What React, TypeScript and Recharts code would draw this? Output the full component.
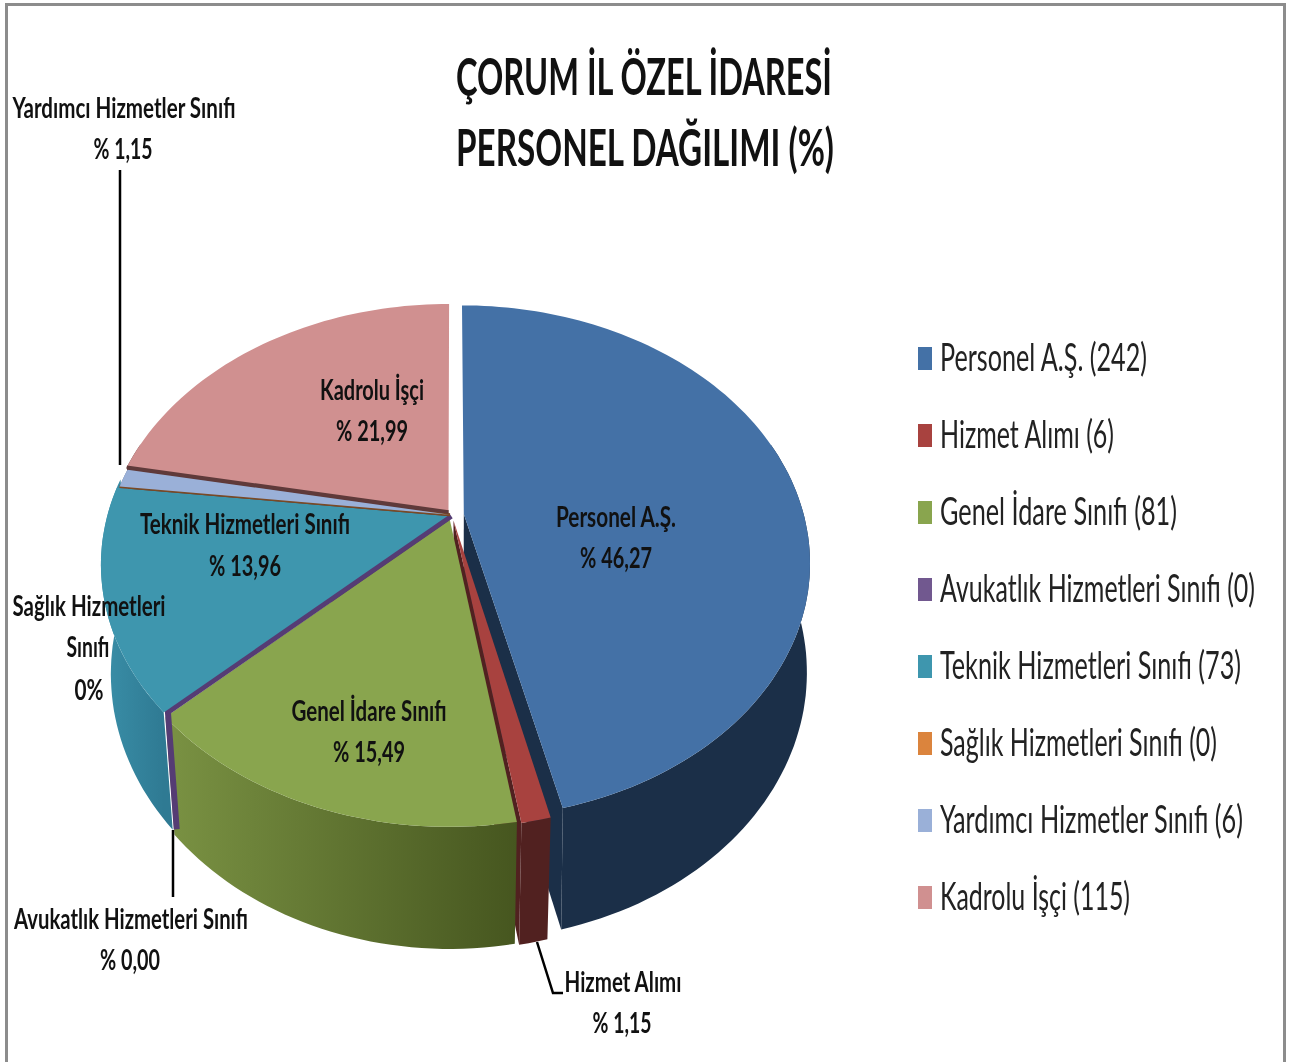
import { Legend, Pie, PieChart } from "recharts";

const names = [
  "Personel A.Ş.",
  "Hizmet Alımı",
  "Genel İdare Sınıfı",
  "Avukatlık Hizmetleri Sınıfı",
  "Teknik Hizmetleri Sınıfı",
  "Sağlık Hizmetleri Sınıfı",
  "Yardımcı Hizmetler Sınıfı",
  "Kadrolu İşçi",
];
const counts = [242, 6, 81, 0, 73, 0, 6, 115];
const percents = ["% 46,27", "% 1,15", "% 15,49", "% 0,00", "% 13,96", "0%", "% 1,15", "% 21,99"];

const topColors = ["#4471a6", "#a8423f", "#89a54e", "#71588f", "#3e96ae", "#db843d", "#9ab0d8", "#d09090"];
const wallColors = [
  ["#1b2f48", "#1b2f48"],
  ["#512120", "#512120"],
  ["#7a9243", "#46561f"],
  ["#4a3a6e", "#4a3a6e"],
  ["#3a8fa8", "#2f7a93"],
  ["#7a4a25", "#7a4a25"],
  ["#5b6f95", "#5b6f95"],
  ["#5f3a3a", "#5f3a3a"],
];
const edgeColors = ["", "", "", "#553c74", "", "#7a4a25", "", ""];
const edgeWidths = [0, 0, 0, 6, 0, 3, 0, 0];
const explode = [0.035, 0.022, 0.02, 0.004, 0.014, 0.006, 0.006, 0.016];
const cutFace = ["end", "end", "", "", "", "", "", "start"];
// wall tweaks per slice: how far the lower rim spreads sideways, extra rim degrees under the neighbour
const wallSpread = [1.02, 1, 1, 1, 1, 1, 1, 1];
const rimOverlap = [0, 0, 0, 0, 2, 0, 0, 0];

const tableData = names.map((name, i) => ({ name, value: counts[i], fill: topColors[i] }));

const FONT = "Lato, 'Open Sans', sans-serif";
const CX = 452;
const CY = 515;
const RADIUS = 340;
const TILT = 0.729;
const PERSP = 0.1866;
const WALL_DROP = 111 / RADIUS;
const WALL_PERSP = 0.028;

// disc coordinates -> screen, wall=true gives the lower rim of the pie
function project(u: number, v: number, wall: boolean, spread: number, cx: number, cy: number, r: number) {
  const w = 1 - PERSP * v + (wall ? WALL_PERSP : 0);
  const drop = wall ? WALL_DROP * r : 0;
  return [cx + ((r * u) / w) * (wall ? spread : 1), cy + (r * TILT * v + drop) / w];
}

function rimAngles(start: number, end: number) {
  const steps = Math.max(1, Math.ceil(Math.abs(end - start) / 1.5));
  const list: number[] = [];
  for (let i = 0; i <= steps; i++) list.push(start + ((end - start) * i) / steps);
  return list;
}

function sliceGeometry(props: any) {
  const { cx, cy, outerRadius, startAngle, endAngle, index } = props;
  const mid = (((startAngle + endAngle) / 2) * Math.PI) / 180;
  const du = explode[index] * Math.cos(mid);
  const dv = -explode[index] * Math.sin(mid);
  const pt = (deg: number | null, wall: boolean) => {
    const a = deg === null ? 0 : (deg * Math.PI) / 180;
    const u = deg === null ? 0 : Math.cos(a);
    const v = deg === null ? 0 : -Math.sin(a);
    return project(u + du, v + dv, wall, wallSpread[index], cx, cy, outerRadius);
  };
  return { pt, angles: rimAngles(startAngle, endAngle - rimOverlap[index]) };
}

const toPoints = (list: number[][]) => list.map((p) => `${p[0].toFixed(1)},${p[1].toFixed(1)}`).join(" ");

function WallSector(props: any) {
  const { index, startAngle, endAngle } = props;
  const { pt, angles } = sliceGeometry(props);
  if (counts[index] === 0) return <g />;
  // only the front part of the rim can be seen
  const front = angles.filter((a) => Math.sin((a * Math.PI) / 180) < 0.3);
  const top = front.map((a) => pt(a, false));
  const bottom = front.map((a) => pt(a, true)).reverse();
  const xs = top.map((p) => p[0]);
  const gradId = `wall-${index}`;
  const cut = cutFace[index];
  const cutAngle = cut === "end" ? endAngle : startAngle;
  return (
    <g>
      <defs>
        <linearGradient id={gradId} gradientUnits="userSpaceOnUse" x1={Math.min(...xs)} x2={Math.max(...xs)} y1={0} y2={0}>
          <stop offset="0%" stopColor={wallColors[index][0]} />
          <stop offset="100%" stopColor={wallColors[index][1]} />
        </linearGradient>
      </defs>
      {cut && (
        <polygon
          points={toPoints([pt(null, false), pt(cutAngle, false), pt(cutAngle, true), pt(null, true)])}
          fill={wallColors[index][1]}
        />
      )}
      {top.length > 1 && <polygon points={toPoints([...top, ...bottom])} fill={`url(#${gradId})`} />}
    </g>
  );
}

function TopSector(props: any) {
  const { index, startAngle, fill } = props;
  const { pt } = sliceGeometry(props);
  const apex = pt(null, false);
  const rimStart = pt(startAngle, false);
  if (counts[index] === 0) {
    // an empty slice is only a seam, running down the wall when it faces the front
    const faces = Math.sin((startAngle * Math.PI) / 180) < 0;
    const seam = faces ? [apex, rimStart, pt(startAngle, true)] : [apex, rimStart];
    return <polyline points={toPoints(seam)} fill="none" stroke={edgeColors[index]} strokeWidth={edgeWidths[index]} />;
  }
  return (
    <g>
      <polygon points={toPoints([apex, ...rimAngles(props.startAngle, props.endAngle).map((a) => pt(a, false))])} fill={fill} />
      {cutFace[index] === "start" && (
        <line x1={apex[0]} y1={apex[1]} x2={rimStart[0]} y2={rimStart[1]} stroke={wallColors[index][0]} strokeWidth={3.5} />
      )}
    </g>
  );
}

// text boxes for the data labels: [centre x, baseline y, text width]
const labelBoxes = [
  [[616, 527, 120], [616, 568, 72]],
  [[623, 992, 117], [622, 1033, 59]],
  [[369, 721, 155], [369, 762, 72]],
  [[131, 929, 234], [130, 970, 60]],
  [[245, 534, 210], [245, 576, 72]],
  [[89, 616, 153], [88, 657, 43], [89, 700, 29]],
  [[124, 118, 223], [123, 159, 59]],
  [[372, 400, 104], [372, 441, 72]],
];
const labelLines = [
  null,
  "537,942 553,993 563,993",
  null,
  "173,830 173,897",
  null,
  null,
  "120,170 120,465",
  null,
];

function labelRows(index: number) {
  if (index === 5) return ["Sağlık Hizmetleri", "Sınıfı", percents[5]];
  return [names[index], percents[index]];
}

function FittedText({ x, y, width, size, weight, anchor, fill, stretch, children }: any) {
  return (
    <text
      transform={`translate(${x} ${y}) scale(1 ${stretch ?? 1})`}
      textAnchor={anchor ?? "middle"}
      textLength={width}
      lengthAdjust="spacingAndGlyphs"
      fontFamily={FONT}
      fontSize={size}
      fontWeight={weight}
      fill={fill ?? "#111"}
    >
      {children}
    </text>
  );
}

function renderLabel(props: any) {
  const { index } = props;
  const line = labelLines[index];
  return (
    <g key={`label-${index}`}>
      {line && <polyline points={line} fill="none" stroke="#000" strokeWidth={2.5} />}
      {labelRows(index).map((row, i) => {
        const box = labelBoxes[index][i];
        return (
          <FittedText key={row} x={box[0]} y={box[1]} width={box[2]} size={29} weight={700}>
            {row}
          </FittedText>
        );
      })}
    </g>
  );
}

const legendWidths = [207, 174, 237, 315, 301, 277, 303, 190];

function ChartLegend({ payload }: any) {
  // both pies report their slices, keep each name once and in data order
  const shown = names.filter((name) => (payload ?? []).some((item: any) => item.value === name));
  return (
    <svg width={370} height={620} style={{ display: "block" }}>
      {shown.map((name, i) => {
        const y = 38 + i * 77;
        return (
          <g key={name}>
            <rect x={8} y={y - 11} width={14} height={23} fill={topColors[i]} />
            <FittedText x={30} y={y + 13} width={legendWidths[i]} size={27} stretch={1.4} weight={400} anchor="start" fill="#222">
              {`${name} (${counts[i]})`}
            </FittedText>
          </g>
        );
      })}
    </svg>
  );
}

export default function App() {
  return (
    <div style={{ position: "absolute", left: 0, top: 0, width: 1296, height: 1062, background: "#fff", overflow: "hidden" }}>
      <div
        style={{
          position: "absolute",
          left: 5,
          top: 3,
          width: 1281,
          height: 1070,
          border: "3px solid #8c8c8c",
          boxSizing: "border-box",
          borderWidth: "3px 3px 0 3px",
        }}
      />
      <div style={{ position: "absolute", left: 0, top: 0, filter: "blur(0.5px)" }}>
        <PieChart width={1296} height={1062} margin={{ top: 0, right: 0, bottom: 0, left: 0 }}>
          <Pie
            data={tableData}
            dataKey="value"
            nameKey="name"
            cx={CX}
            cy={CY}
            outerRadius={RADIUS}
            startAngle={90}
            endAngle={-270}
            legendType="none"
            isAnimationActive={false}
            shape={WallSector}
          />
          <Pie
            data={tableData}
            dataKey="value"
            nameKey="name"
            cx={CX}
            cy={CY}
            outerRadius={RADIUS}
            startAngle={90}
            endAngle={-270}
            isAnimationActive={false}
            shape={TopSector}
            label={renderLabel}
            labelLine={false}
          />
          <FittedText x={644} y={95} width={376} size={52} weight={700}>
            ÇORUM İL ÖZEL İDARESİ
          </FittedText>
          <FittedText x={645} y={166} width={378} size={52} weight={700}>
            PERSONEL DAĞILIMI (%)
          </FittedText>
          <Legend
            content={<ChartLegend />}
            wrapperStyle={{ position: "absolute", left: 910, top: 320, width: 370, height: 620 }}
          />
        </PieChart>
      </div>
    </div>
  );
}
